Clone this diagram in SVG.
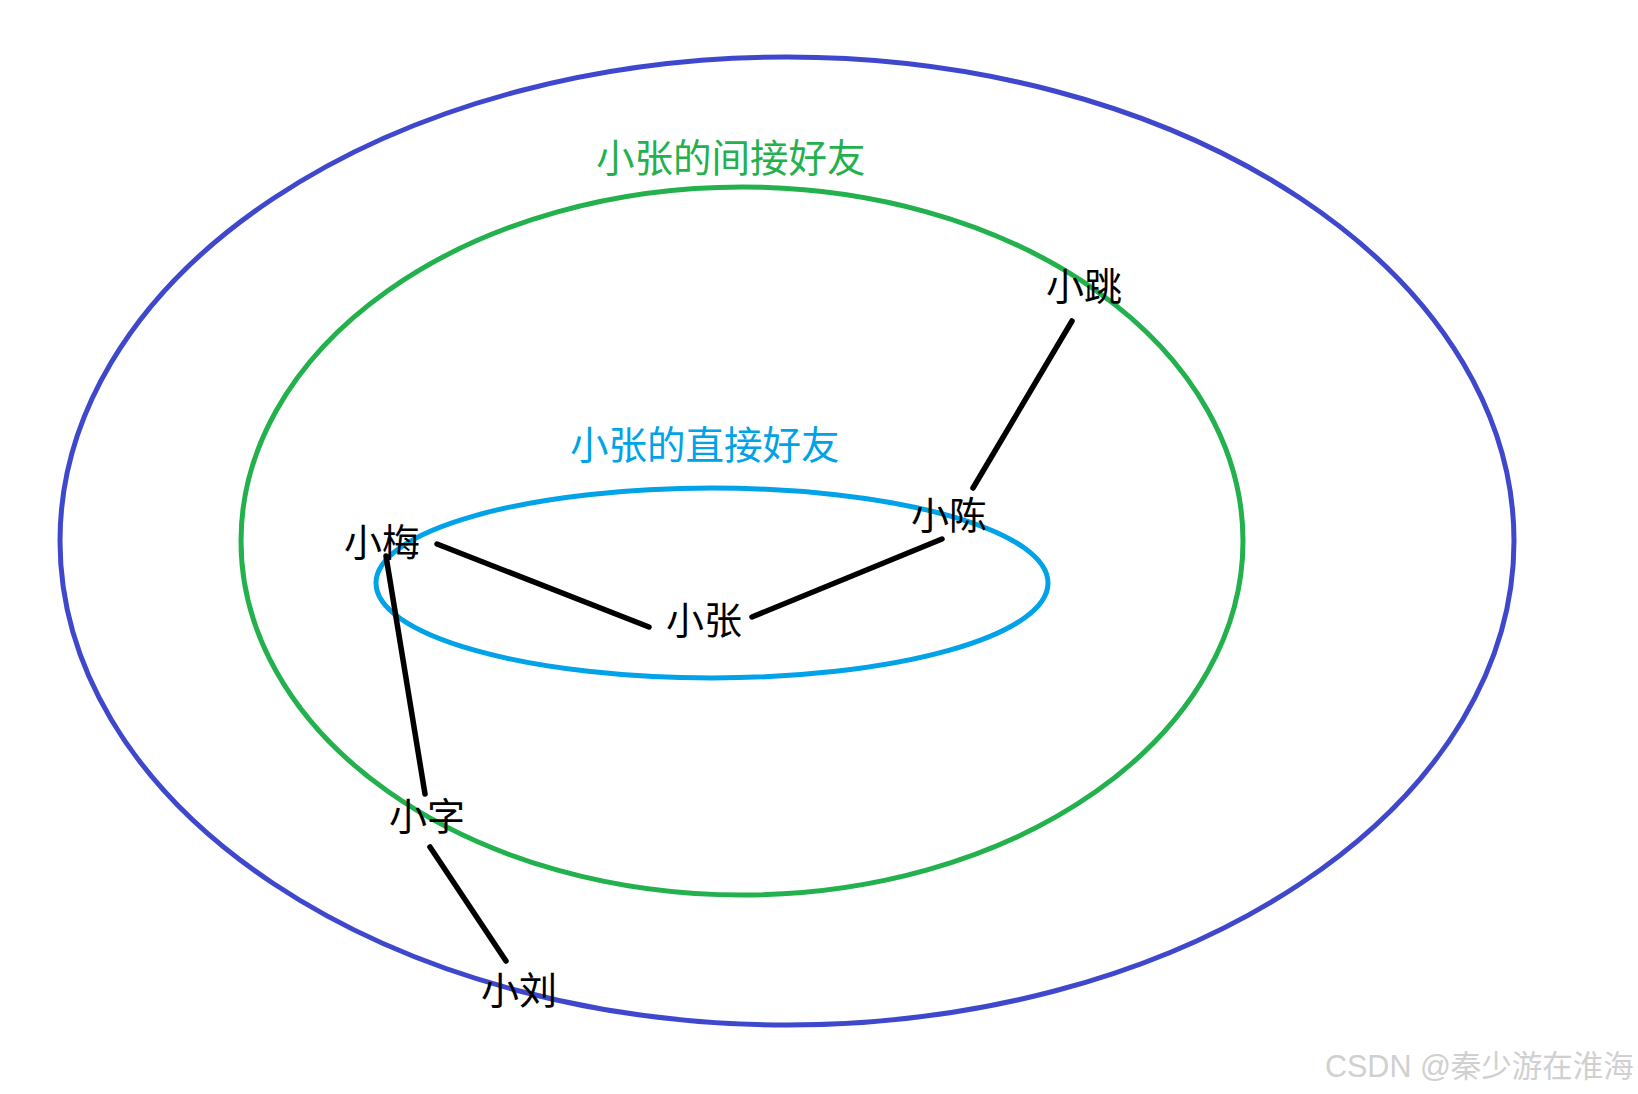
<svg xmlns="http://www.w3.org/2000/svg" width="1638" height="1094" viewBox="0 0 1638 1094">
<style>
.ring{fill:none;stroke-width:5}
.edge{stroke:#000;stroke-width:5.5;stroke-linecap:round}
.lbl{font-family:"Noto Sans CJK SC","Microsoft YaHei",sans-serif;font-size:38px;fill:#000}
.title{font-family:"Noto Sans CJK SC","Microsoft YaHei",sans-serif;font-size:38.5px}
.wm{font-family:"Liberation Sans","Noto Sans CJK SC",sans-serif;font-size:30.5px;fill:#d0d0d0}
</style>
<rect width="1638" height="1094" fill="#fff"/>
<g id="rings">
<ellipse id="ring-outer" class="ring" cx="787" cy="541" rx="727" ry="484" stroke="#3f48cc"/>
<ellipse id="ring-indirect" class="ring" cx="742" cy="541" rx="501" ry="354" stroke="#22b14c"/>
<ellipse id="ring-direct" class="ring" cx="712" cy="583" rx="336" ry="95" stroke="#00a2e8"/>
</g>
<g id="connectors">
<line class="edge" x1="437" y1="544" x2="649" y2="627"/>
<line class="edge" x1="752" y1="617" x2="942" y2="539"/>
<line class="edge" x1="973" y1="488" x2="1072" y2="321"/>
<line class="edge" x1="386" y1="556" x2="425" y2="794"/>
<line class="edge" x1="430" y1="847" x2="506" y2="961"/>
</g>
<g id="title-indirect"><text class="title" x="596" y="172" fill="#22b14c">小张的间接好友</text></g>
<g id="title-direct"><text class="title" x="570" y="459" fill="#00a2e8">小张的直接好友</text></g>
<g id="n-xiaomei"><text class="lbl" x="344" y="556">小梅</text></g>
<g id="n-xiaozhang"><text class="lbl" x="666" y="634">小张</text></g>
<g id="n-xiaochen"><text class="lbl" x="911" y="529">小陈</text></g>
<g id="n-xiaotiao"><text class="lbl" x="1046" y="300">小跳</text></g>
<g id="n-xiaozi"><text class="lbl" x="389" y="830">小字</text></g>
<g id="n-xiaoliu"><text class="lbl" x="481" y="1004">小刘</text></g>
<text class="wm" x="1325" y="1077">CSDN @秦少游在淮海</text>
</svg>
